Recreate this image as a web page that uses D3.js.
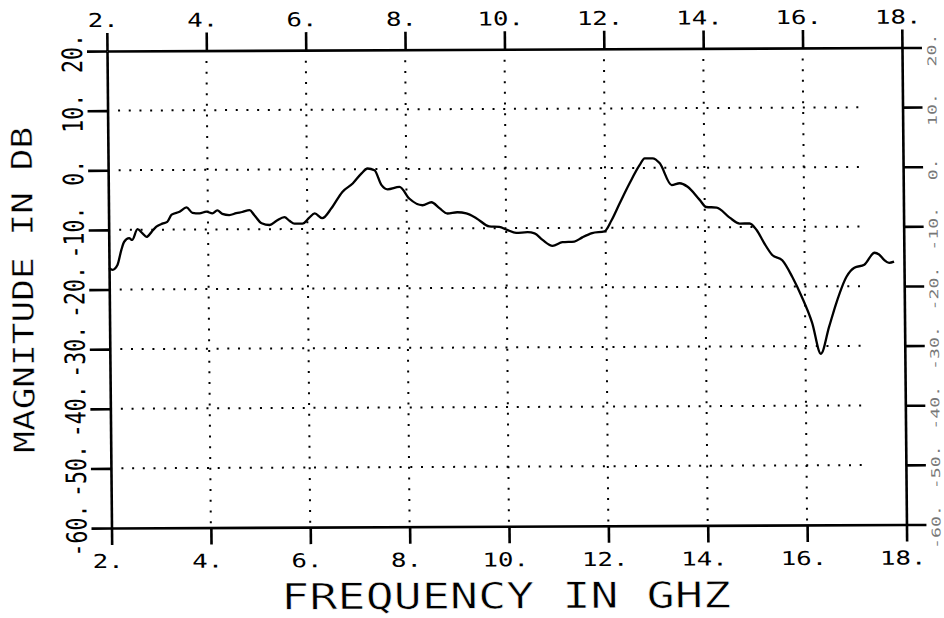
<!DOCTYPE html>
<html>
<head>
<meta charset="utf-8">
<script src="https://cdn.jsdelivr.net/npm/d3@7"></script>
<style>
  html, body { margin: 0; background: #fff; }
  svg { display: block; }
</style>
</head>
<body>
<svg id="chart" width="944" height="618"></svg>
<script>
// Axis ticks and labels
const freqTicks = [2, 4, 6, 8, 10, 12, 14, 16, 18];
const freqLabels = ["2.", "4.", "6.", "8.", "10.", "12.", "14.", "16.", "18."];
const dbTicks = [20, 10, 0, -10, -20, -30, -40, -50, -60];
const dbLabels = ["20.", "10.", "0.", "-10.", "-20.", "-30.", "-40.", "-50.", "-60."];

// Measured response: frequency (GHz) and magnitude (dB)
const freq = [
  2.00, 2.07, 2.17, 2.25, 2.31, 2.41, 2.47, 2.58, 2.68, 2.76, 2.86, 2.96,
  3.08, 3.18, 3.27, 3.43, 3.57, 3.69, 3.83, 3.97, 4.09, 4.19, 4.29, 4.43,
  4.57, 4.69, 4.84, 4.93, 5.08, 5.24, 5.38, 5.54, 5.64, 5.74, 5.90, 6.04,
  6.15, 6.30, 6.49, 6.71, 6.92, 7.10, 7.22, 7.36, 7.50, 7.62, 7.86, 8.06,
  8.32, 8.50, 8.66, 8.82, 9.02, 9.20, 9.40, 9.66, 9.86, 10.02, 10.20, 10.43,
  10.57, 10.73, 10.93, 11.13, 11.37, 11.53, 11.73, 11.98, 12.12, 12.29, 12.49, 12.70,
  12.80, 12.96, 13.10, 13.34, 13.50, 13.66, 13.90, 14.03, 14.24, 14.50, 14.70, 14.90,
  15.04, 15.19, 15.35, 15.55, 15.75, 15.94, 16.14, 16.31, 16.48, 16.63, 16.84, 17.00,
  17.20, 17.41, 17.50, 17.60, 17.70, 17.80
];
const magnitude = [
  -16.4, -16.7, -15.9, -13.4, -12.0, -11.4, -11.7, -9.9, -10.6, -11.2, -10.4, -9.5,
  -9.0, -8.7, -7.5, -7.0, -6.3, -7.2, -7.3, -7.0, -7.3, -6.8, -7.4, -7.6,
  -7.3, -7.1, -6.8, -7.6, -9.0, -9.3, -8.6, -8.0, -8.6, -9.1, -9.1, -8.1,
  -7.4, -8.2, -6.5, -3.8, -2.4, -0.7, 0.1, -0.2, -2.7, -3.4, -3.0, -5.0,
  -6.1, -5.6, -6.6, -7.5, -7.3, -7.5, -8.3, -9.7, -9.8, -10.3, -10.8, -10.7,
  -10.9, -12.0, -13.0, -12.4, -12.3, -11.6, -10.9, -10.6, -8.8, -5.9, -2.6, 0.5,
  1.6, 1.6, 0.8, -2.9, -2.6, -3.2, -5.4, -6.6, -6.7, -8.4, -9.4, -9.4,
  -10.5, -12.7, -14.7, -15.6, -18.4, -21.8, -26.1, -31.3, -26.8, -22.8, -18.4, -16.9,
  -16.4, -14.4, -14.7, -15.6, -16.1, -15.9
];

const W = 795, H = 477;
const FONT = "'DejaVu Sans Mono', 'Liberation Mono', monospace";
const AXIS_W = 2.6;

const x = d3.scaleLinear().domain([2, 18]).range([0, W]);
const y = d3.scaleLinear().domain([20, -60]).range([0, H]);

const svg = d3.select("#chart");
const g = svg.append("g")
  .attr("transform", "translate(107,51) skewX(0.54) skewY(-0.25)");

// Dotted grid
g.append("g").selectAll("line")
  .data(dbTicks.slice(1, -1))
  .join("line")
  .attr("x1", 10.5).attr("x2", x(17.25))
  .attr("y1", d => y(d)).attr("y2", d => y(d))
  .attr("stroke", "#000").attr("stroke-width", 2)
  .attr("stroke-dasharray", "2 8.7");

g.append("g").selectAll("line")
  .data(freqTicks.slice(1, -1))
  .join("line")
  .attr("x1", d => x(d)).attr("x2", d => x(d))
  .attr("y1", 10.5).attr("y2", H)
  .attr("stroke", "#000").attr("stroke-width", 2)
  .attr("stroke-dasharray", "2 8.7");

function styleAxis(sel) {
  sel.selectAll("path.domain").attr("stroke", "#000").attr("stroke-width", AXIS_W);
  sel.selectAll(".tick line").attr("stroke", "#000").attr("stroke-width", AXIS_W);
  sel.selectAll("text")
    .attr("font-family", FONT)
    .attr("fill", "#000");
}

// Top axis
g.append("g")
  .call(d3.axisTop(x).tickValues(freqTicks).tickSize(18).tickSizeOuter(0)
    .tickFormat((d, i) => freqLabels[i]))
  .attr("font-size", null).attr("font-family", null)
  .call(styleAxis)
  .call(a => a.selectAll("text")
    .attr("font-size", 19)
    .attr("x", -4).attr("y", -24).attr("dy", 0)
    .attr("text-anchor", "middle")
    .attr("textLength", d => freqLabels[freqTicks.indexOf(d)].length * 15.5)
    .attr("lengthAdjust", "spacingAndGlyphs"));

// Bottom axis
g.append("g")
  .attr("transform", `translate(0,${H})`)
  .call(d3.axisBottom(x).tickValues(freqTicks).tickSize(17).tickSizeOuter(0)
    .tickFormat((d, i) => freqLabels[i]))
  .attr("font-size", null).attr("font-family", null)
  .call(styleAxis)
  .call(a => a.selectAll("text")
    .attr("font-size", 19)
    .attr("x", -4).attr("y", 40).attr("dy", 0)
    .attr("text-anchor", "middle")
    .attr("textLength", d => freqLabels[freqTicks.indexOf(d)].length * 15.5)
    .attr("lengthAdjust", "spacingAndGlyphs"));

// Left axis, labels turned to read upward
g.append("g")
  .call(d3.axisLeft(y).tickValues(dbTicks).tickSize(20).tickSizeOuter(0)
    .tickFormat((d, i) => dbLabels[i]))
  .attr("font-size", null).attr("font-family", null)
  .call(styleAxis)
  .call(a => a.selectAll("text")
    .attr("font-size", 28)
    .attr("transform", "rotate(-90)")
    .attr("x", -2).attr("y", -25).attr("dy", 0)
    .attr("text-anchor", "middle")
    .attr("textLength", d => dbLabels[dbTicks.indexOf(d)].length * 13)
    .attr("lengthAdjust", "spacingAndGlyphs"));

// Right axis, faint labels squeezed against the sheet edge
g.append("g")
  .attr("transform", `translate(${W},0)`)
  .call(d3.axisRight(y).tickValues(dbTicks).tickSize(20).tickSizeOuter(0)
    .tickFormat((d, i) => dbLabels[i]))
  .attr("font-size", null).attr("font-family", null)
  .call(styleAxis)
  .call(a => a.selectAll("text")
    .attr("font-size", 12)
    .attr("fill", "#777")
    .attr("transform", "rotate(-90)")
    .attr("x", -2).attr("y", 34).attr("dy", 0)
    .attr("text-anchor", "middle")
    .attr("textLength", d => dbLabels[dbTicks.indexOf(d)].length * 11)
    .attr("lengthAdjust", "spacingAndGlyphs"));

// Response curve
const line = d3.line()
  .x((d, i) => x(freq[i]))
  .y(d => y(d))
  .curve(d3.curveMonotoneX);

g.append("path")
  .datum(magnitude)
  .attr("d", line)
  .attr("fill", "none")
  .attr("stroke", "#000")
  .attr("stroke-width", 2.3)
  .attr("stroke-linejoin", "round");

// Axis titles
g.append("text")
  .attr("x", 394).attr("y", 559)
  .attr("text-anchor", "middle")
  .attr("font-family", FONT).attr("font-size", 36)
  .attr("textLength", 450).attr("lengthAdjust", "spacingAndGlyphs")
  .attr("fill", "#000").attr("stroke", "#fff").attr("stroke-width", 0.6)
  .text("FREQUENCY IN GHZ");

g.append("text")
  .attr("transform", `translate(-76,${H / 2}) rotate(-90)`)
  .attr("text-anchor", "middle")
  .attr("font-family", FONT).attr("font-size", 29)
  .attr("textLength", 326).attr("lengthAdjust", "spacingAndGlyphs")
  .attr("fill", "#000").attr("stroke", "#fff").attr("stroke-width", 0.4)
  .text("MAGNITUDE IN DB");
</script>
</body>
</html>
